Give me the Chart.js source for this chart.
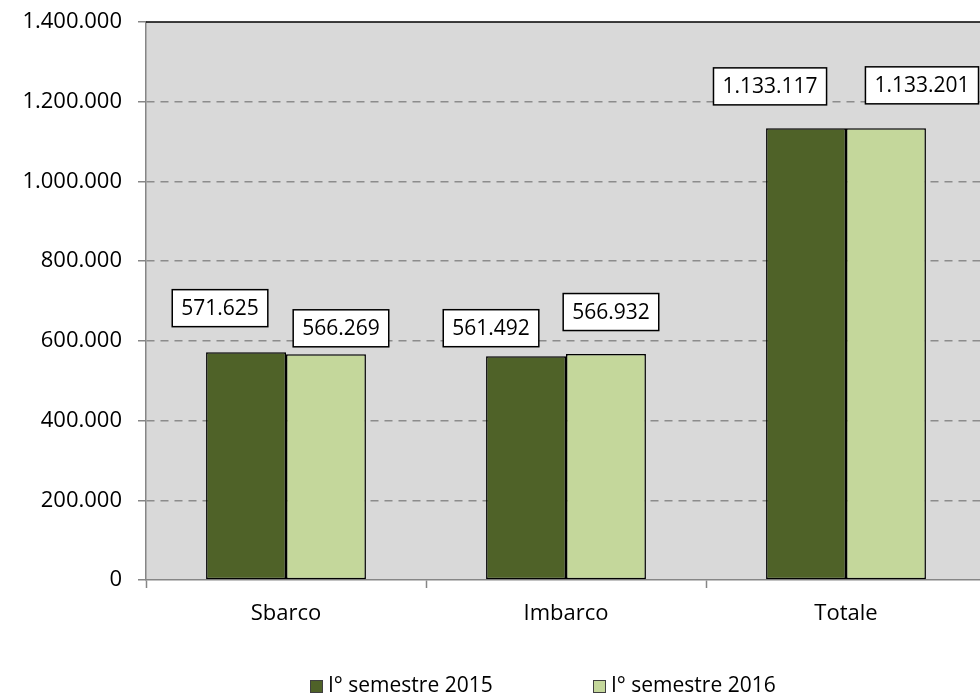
<!DOCTYPE html>
<html>
<head>
<meta charset="utf-8">
<script src="https://cdn.jsdelivr.net/npm/chart.js@4/dist/chart.umd.min.js"></script>
<style>
  html, body { margin: 0; padding: 0; background: #fff; overflow: hidden; }
  #wrap { width: 1000px; height: 696px; }
</style>
</head>
<body>
<div id="wrap"><canvas id="chart" width="1000" height="696"></canvas></div>
<script>
// values
const categories = ["Sbarco", "Imbarco", "Totale"];
const seriesNames = ["I° semestre 2015", "I° semestre 2016"];
const values2015 = [571625, 561492, 1133117];
const values2016 = [566269, 566932, 1133201];
const yTicks = [0, 200000, 400000, 600000, 800000, 1000000, 1200000, 1400000];

// label boxes were nudged by hand in the original, keep the same nudges (px from bar top)
const LABEL_NUDGE = [
    [[-26, -44], [-35, -28], [-36, -42]],
    [[15, -26], [5, -42], [36, -43]]
];

const FONT = "'Open Sans', 'Liberation Sans', sans-serif";
const fmt = v => String(Math.round(v)).replace(/\B(?=(\d{3})+(?!\d))/g, ".");

const plotBg = {
    id: "plotBg",
    beforeDraw(chart) {
        const { ctx, chartArea: a } = chart;
        ctx.save();
        ctx.fillStyle = "#d9d9d9";
        ctx.fillRect(a.left, a.top, a.right - a.left, a.bottom - a.top);
        ctx.restore();
    },
    afterDraw(chart) {
        const { ctx, chartArea: a } = chart;
        ctx.save();
        ctx.strokeStyle = "#000";
        ctx.lineWidth = 1.5;
        ctx.beginPath();
        ctx.moveTo(a.left, a.top);
        ctx.lineTo(a.right, a.top);
        ctx.stroke();
        ctx.restore();
    }
};

const boxLabels = {
    id: "boxLabels",
    afterDatasetsDraw(chart) {
        const ctx = chart.ctx;
        ctx.save();
        ctx.font = "21px " + FONT;
        ctx.textAlign = "center";
        ctx.textBaseline = "middle";
        chart.data.datasets.forEach((ds, di) => {
            chart.getDatasetMeta(di).data.forEach((bar, i) => {
                const txt = fmt(ds.data[i]);
                const [dx, dy] = LABEL_NUDGE[di][i];
                const cx = bar.x + dx, cy = bar.y + dy;
                const w = ctx.measureText(txt).width + 18, h = 37;
                ctx.fillStyle = "#fff";
                ctx.fillRect(cx - w / 2, cy - h / 2, w, h);
                ctx.strokeStyle = "#000";
                ctx.lineWidth = 1.5;
                ctx.strokeRect(cx - w / 2, cy - h / 2, w, h);
                ctx.fillStyle = "#000";
                ctx.fillText(txt, cx, cy + 1);
            });
        });
        ctx.restore();
    }
};

// legend drawn by hand to get Excel's wide item spacing
const bottomLegend = {
    id: "bottomLegend",
    afterDraw(chart) {
        const ctx = chart.ctx;
        ctx.save();
        ctx.font = "21px " + FONT;
        ctx.textBaseline = "middle";
        const y = 686;
        chart.data.datasets.forEach((ds, di) => {
            const x = 310 + di * 283;
            ctx.fillStyle = ds.backgroundColor;
            ctx.fillRect(x, y - 6, 13, 13);
            ctx.strokeStyle = "#404040";
            ctx.lineWidth = 1;
            ctx.strokeRect(x + 0.5, y - 5.5, 12, 12);
            ctx.fillStyle = "#000";
            ctx.fillText(ds.label, x + 18, y);
        });
        ctx.restore();
    }
};

new Chart(document.getElementById("chart"), {
    type: "bar",
    data: {
        labels: categories,
        datasets: [
            { label: seriesNames[0], data: values2015, backgroundColor: "#4f6228" },
            { label: seriesNames[1], data: values2016, backgroundColor: "#c4d79b" }
        ]
    },
    options: {
        responsive: false,
        animation: false,
        layout: { padding: { top: 22, right: 14, bottom: 50, left: 0 } },
        datasets: {
            bar: { barPercentage: 1, categoryPercentage: 0.571, borderColor: "#000", borderWidth: 1.5, borderSkipped: false }
        },
        plugins: { legend: { display: false }, tooltip: { enabled: false } },
        scales: {
            x: {
                offset: true,
                afterFit: s => { s.height = 66; s.paddingLeft = 0; s.paddingRight = 0; },
                grid: { offset: true, drawOnChartArea: false, drawTicks: true, tickLength: 8, tickColor: "#868686", tickWidth: 1.5 },
                border: { color: "#868686", width: 1.5 },
                ticks: { color: "#000", font: { family: FONT, size: 22 }, padding: 13 }
            },
            y: {
                min: 0, max: 1400000,
                afterFit: s => { s.width = 146; s.paddingTop = 0; s.paddingBottom = 0; },
                afterBuildTicks: s => { s.ticks = yTicks.map(v => ({ value: v })); },
                grid: {
                    color: c => (c.tick && (c.tick.value === 0 || c.tick.value === 1400000)) ? "rgba(0,0,0,0)" : "#8c8c8c",
                    lineWidth: 1.5,
                    tickBorderDash: [],
                    tickLength: 8,
                    tickColor: "#868686",
                    tickWidth: 1.5
                },
                border: { color: "#868686", width: 1.5, dash: [8, 6] },
                ticks: { color: "#000", font: { family: FONT, size: 22 }, padding: 16, callback: v => fmt(v) }
            }
        }
    },
    plugins: [plotBg, boxLabels, bottomLegend]
});
</script>
</body>
</html>
